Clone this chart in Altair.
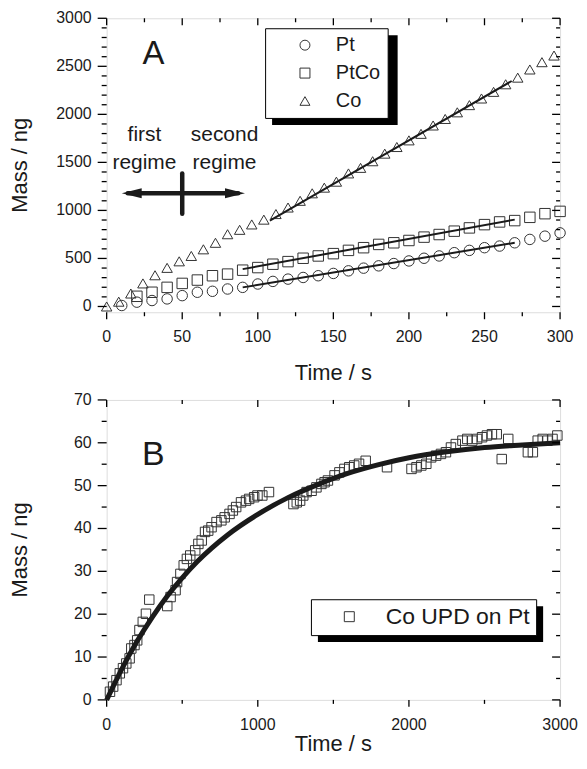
import altair as alt
import pandas as pd

FONT = "Liberation Sans"
INK = "#1a1a1a"
MARK = "#333333"

# ---------------- Panel A data ----------------
pt_time = [10, 20, 30, 40, 50, 60, 70, 80, 90, 100, 110, 120, 130, 140, 150,
           160, 170, 180, 190, 200, 210, 220, 230, 240, 250, 260, 270, 280, 290, 300]
pt_mass = [10, 45, 62, 79, 113, 148, 158, 182, 199, 234, 261, 285, 302, 320, 344,
           371, 399, 423, 447, 474, 502, 526, 560, 584, 612, 629, 663, 698, 732, 766]

ptco_time = [20, 30, 40, 50, 60, 70, 80, 90, 100, 110, 120, 130, 140, 150,
             160, 170, 180, 190, 200, 210, 220, 230, 240, 250, 260, 270, 280, 290, 300]
ptco_mass = [106, 148, 199, 240, 275, 320, 337, 378, 405, 440, 467, 502, 526, 550,
             584, 612, 646, 663, 687, 722, 749, 784, 818, 852, 880, 894, 928, 966, 990]

co_time = [0, 8, 16, 24, 32, 40, 48, 56, 64, 72, 80, 88, 96, 104, 112, 120, 128, 136, 144,
           152, 160, 168, 176, 184, 192, 200, 208, 216, 224, 232, 240, 248, 256, 264, 272,
           280, 288, 296]
co_mass = [0, 50, 135, 240, 325, 402, 470, 526, 595, 663, 752, 798, 854, 904, 962, 1030,
           1100, 1178, 1237, 1299, 1385, 1443, 1512, 1591, 1660, 1729, 1797, 1884, 1952,
           2021, 2096, 2165, 2234, 2313, 2382, 2467, 2543, 2612]

series_a = ["Pt", "PtCo", "Co"]

fit_series = ["Pt", "Pt", "PtCo", "PtCo", "Co", "Co"]
fit_time = [90, 270, 90, 270, 108, 268]
fit_mass = [199, 663, 389, 904, 894, 2347]

arrow_part = ["h", "h", "v", "v"]
arrow_time = [14, 87, 50, 50]
arrow_mass = [1178, 1178, 966, 1385]
head_left_time, head_right_time, head_mass = [10], [91.5], [1178]

note_text = ["first", "regime", "second", "regime"]
note_time = [25, 25, 78, 78]
note_mass = [1719, 1430, 1719, 1430]

# ---------------- Panel B data ----------------
b_time = [22, 43, 65, 87, 108, 130, 152, 163, 184, 202, 217, 239, 260, 282, 401, 423,
          456, 466, 488, 510, 531, 553, 586, 607, 629, 651, 672, 694, 727, 759, 781, 813,
          835, 857, 889, 922, 943, 976, 998, 1030, 1074, 1236, 1258, 1280, 1301, 1323,
          1356, 1388, 1421, 1442, 1464, 1508, 1540, 1573, 1605, 1638, 1670, 1714, 1855,
          2017, 2050, 2082, 2115, 2147, 2180, 2212, 2245, 2278, 2310, 2354, 2386, 2419,
          2451, 2484, 2516, 2549, 2581, 2614, 2657, 2787, 2820, 2852, 2885, 2917, 2950, 2982]
b_mass = [1.9, 3.1, 4.6, 6.2, 7.4, 8.5, 9.7, 12.0, 12.8, 13.9, 16.3, 18.2, 20.1, 23.4,
          21.9, 24.0, 25.6, 27.5, 29.4, 31.4, 32.9, 33.7, 34.9, 36.4, 37.2, 39.2, 39.5,
          40.3, 41.5, 41.9, 42.6, 43.4, 44.2, 45.0, 46.1, 46.5, 46.9, 47.3, 47.7, 47.7,
          48.5, 45.7, 46.1, 46.5, 47.7, 48.5, 48.8, 49.6, 50.4, 50.8, 51.2, 52.4, 53.1,
          53.9, 54.3, 54.7, 55.1, 55.8, 54.3, 53.9, 54.3, 54.7, 55.1, 56.6, 57.0, 57.4,
          57.8, 58.9, 59.7, 60.5, 60.9, 60.5, 60.9, 61.3, 61.7, 62.0, 62.0, 56.2, 60.9,
          57.8, 57.8, 60.5, 60.9, 60.5, 60.9, 61.7]
b_series = "Co UPD on Pt"

curve_time = [0, 100, 200, 300, 400, 500, 600, 800, 1000, 1200, 1400, 1600, 1800, 2000,
              2250, 2500, 2750, 3000]
curve_mass = [0, 7.2, 13.6, 19.2, 24.2, 28.5, 32.3, 38.5, 43.3, 47.2, 50.3, 52.9, 54.9,
              56.5, 57.9, 58.9, 59.5, 60.0]

# ---------------- tick values and axis texts ----------------
xa_major = [0, 50, 100, 150, 200, 250, 300]
xa_minor = [25, 75, 125, 175, 225, 275]
ya_major = [0, 500, 1000, 1500, 2000, 2500, 3000]
ya_minor = [100, 200, 300, 400, 600, 700, 800, 900, 1100, 1200, 1300, 1400, 1600, 1700,
            1800, 1900, 2100, 2200, 2300, 2400, 2600, 2700, 2800, 2900]
xb_major = [0, 1000, 2000, 3000]
xb_minor = [500, 1500, 2500]
yb_major = [0, 10, 20, 30, 40, 50, 60, 70]
yb_minor = [5, 15, 25, 35, 45, 55, 65]

x_title = "Time  /  s"
y_title = "Mass  /  ng"

# ---------------- tables ----------------
pts_a = pd.DataFrame({
    "t": pt_time + ptco_time + co_time,
    "m": pt_mass + ptco_mass + co_mass,
    "series": ["Pt"] * len(pt_time) + ["PtCo"] * len(ptco_time) + ["Co"] * len(co_time),
})
fit_a = pd.DataFrame({"t": fit_time, "m": fit_mass, "series": fit_series})
arrow_a = pd.DataFrame({"t": arrow_time, "m": arrow_mass, "part": arrow_part})
notes_a = pd.DataFrame({"t": note_time, "m": note_mass, "txt": note_text})
pts_b = pd.DataFrame({"t": b_time, "m": b_mass, "series": [b_series] * len(b_time)})
curve_b = pd.DataFrame({"t": curve_time, "m": curve_mass})
one = pd.DataFrame({"k": [0]})

WA, HA = 455, 295
WB, HB = 455, 301

VTICK = "M0,-1L0,1"   # vertical stroke symbol (length = sqrt(size))
HTICK = "M-1,0L1,0"   # horizontal stroke symbol

xsA = alt.Scale(domain=[0, 300], nice=False, zero=False)
ysA = alt.Scale(domain=[-60, 3000], nice=False, zero=False)
xsB = alt.Scale(domain=[0, 3000], nice=False, zero=False)
ysB = alt.Scale(domain=[0, 70], nice=False, zero=False)


def XA(f="t:Q"):
    return alt.X(f, scale=xsA, axis=None)


def YA(f="m:Q"):
    return alt.Y(f, scale=ysA, axis=None)


def XB(f="t:Q"):
    return alt.X(f, scale=xsB, axis=None)


def YB(f="m:Q"):
    return alt.Y(f, scale=ysB, axis=None)


def frame_layers(X, Y, x_major, x_minor, y_major, y_minor, W, H, title_gap):
    """Ticks (outward bottom/left, inward top/right), tick labels and axis
    titles, all placed through the panel's own scales."""
    layers = []
    for vals, L in ((x_major, 7), (x_minor, 4)):
        base = alt.Chart(pd.DataFrame({"v": vals})).mark_point(
            shape=VTICK, size=L * L, filled=False, color="black", strokeWidth=1.3,
            opacity=1)
        layers.append(base.encode(x=X("v:Q"), y=alt.value(H + L / 2)))
        layers.append(base.encode(x=X("v:Q"), y=alt.value(L / 2)))
    for vals, Lout, Lin in ((y_major, 9, 8), (y_minor, 5, 4)):
        df = pd.DataFrame({"v": vals})
        layers.append(alt.Chart(df).mark_point(
            shape=HTICK, size=Lout * Lout, filled=False, color="black", strokeWidth=1.3,
            opacity=1).encode(y=Y("v:Q"), x=alt.value(-Lout / 2)))
        layers.append(alt.Chart(df).mark_point(
            shape=HTICK, size=Lin * Lin, filled=False, color="black", strokeWidth=1.3,
            opacity=1).encode(y=Y("v:Q"), x=alt.value(W - Lin / 2)))
    # tick labels
    xl = pd.DataFrame({"v": x_major, "lab": [str(v) for v in x_major]})
    layers.append(alt.Chart(xl).mark_text(
        font=FONT, fontSize=16, color=INK, align="center", baseline="middle").encode(
        x=X("v:Q"), y=alt.value(H + 25), text="lab:N"))
    yl = pd.DataFrame({"v": y_major, "lab": [str(v) for v in y_major]})
    layers.append(alt.Chart(yl).mark_text(
        font=FONT, fontSize=16, color=INK, align="right", baseline="middle").encode(
        y=Y("v:Q"), x=alt.value(-15), text="lab:N"))
    # axis titles
    layers.append(alt.Chart(pd.DataFrame({"txt": [x_title]})).mark_text(
        font=FONT, fontSize=22, color=INK, align="center", baseline="alphabetic").encode(
        x=alt.value(W / 2), y=alt.value(H + title_gap), text="txt:N"))
    layers.append(alt.Chart(pd.DataFrame({"txt": [y_title]})).mark_text(
        font=FONT, fontSize=22, color=INK, align="center", baseline="alphabetic",
        angle=270).encode(
        x=alt.value(-80), y=alt.value(H / 2), text="txt:N"))
    return layers


# ---------------- Panel A ----------------
shadow_a = alt.Chart(one).mark_rect(color="black").encode(
    x=alt.value(166), x2=alt.value(292), y=alt.value(17), y2=alt.value(107))

points_a = alt.Chart(pts_a).mark_point(filled=False, color=MARK, strokeWidth=1, opacity=1,
                                       size=110).encode(
    x=XA(), y=YA(),
    shape=alt.Shape("series:N", scale=alt.Scale(domain=series_a,
                                                range=["circle", "square", "triangle-up"]),
                    legend=alt.Legend(title=None, orient="none", legendX=159, legendY=10,
                                      fillColor="white", strokeColor="black", padding=7,
                                      labelFont=FONT, labelFontSize=20, labelColor=INK,
                                      symbolSize=100, symbolStrokeWidth=1,
                                      symbolStrokeColor=MARK, symbolOffset=23,
                                      labelOffset=21, rowPadding=8)),
)

fits_a = alt.Chart(fit_a).mark_line(color=INK, strokeWidth=2).encode(
    x=XA(), y=YA(), detail="series:N")

arrows_a = alt.Chart(arrow_a).mark_line(color=INK, strokeWidth=4.5, strokeCap="round").encode(
    x=XA(), y=YA(), detail="part:N")

notes = alt.Chart(notes_a).mark_text(font=FONT, fontSize=21, color=INK, align="center",
                                      baseline="alphabetic").encode(
    x=XA(), y=YA(), text="txt:N")

head_l = alt.Chart(pd.DataFrame({"t": head_left_time, "m": head_mass})).mark_point(
    shape="M0,0L2,-0.5L2,0.5Z", filled=True, color=INK, size=400, opacity=1).encode(
    x=XA(), y=YA())
head_r = alt.Chart(pd.DataFrame({"t": head_right_time, "m": head_mass})).mark_point(
    shape="M0,0L-2,-0.5L-2,0.5Z", filled=True, color=INK, size=400, opacity=1).encode(
    x=XA(), y=YA())

label_a = alt.Chart(pd.DataFrame({"t": [31], "m": [2519], "txt": ["A"]})).mark_text(
    font=FONT, fontSize=33, color=INK, align="center", baseline="alphabetic").encode(
    x=XA(), y=YA(), text="txt:N")

panel_a = alt.layer(
    shadow_a, points_a, fits_a, arrows_a, notes, head_l, head_r, label_a,
    *frame_layers(XA, YA, xa_major, xa_minor, ya_major, ya_minor, WA, HA, 68)
).properties(width=WA, height=HA)

# ---------------- Panel B ----------------
shadow_b = alt.Chart(one).mark_rect(color="black").encode(
    x=alt.value(212), x2=alt.value(438), y=alt.value(207), y2=alt.value(243))

points_b = alt.Chart(pts_b).mark_point(filled=False, color=MARK, strokeWidth=1, opacity=1,
                                       size=90).encode(
    x=XB(), y=YB(),
    shape=alt.Shape("series:N", scale=alt.Scale(domain=[b_series], range=["square"]),
                    legend=alt.Legend(title=None, orient="none", legendX=205, legendY=200,
                                      fillColor="white", strokeColor="black", padding=6,
                                      labelFont=FONT, labelFontSize=23, labelColor=INK,
                                      symbolSize=100, symbolStrokeWidth=1,
                                      symbolStrokeColor=MARK, symbolOffset=21,
                                      labelOffset=25)),
)

curve = alt.Chart(curve_b).mark_line(color=INK, strokeWidth=5, interpolate="monotone").encode(
    x=XB(), y=YB())

label_b = alt.Chart(pd.DataFrame({"t": [309], "m": [54.7], "txt": ["B"]})).mark_text(
    font=FONT, fontSize=34, color=INK, align="center", baseline="alphabetic").encode(
    x=XB(), y=YB(), text="txt:N")

panel_b = alt.layer(
    shadow_b, points_b, curve, label_b,
    *frame_layers(XB, YB, xb_major, xb_minor, yb_major, yb_minor, WB, HB, 51)
).properties(width=WB, height=HB)

chart = alt.vconcat(panel_a, panel_b, spacing=6).resolve_scale(
    shape="independent").properties(
    padding={"left": 0, "top": 0, "right": 0, "bottom": 0}, background="white"
).configure_view(stroke="black", strokeWidth=1.6).configure(font=FONT)

chart.save("out.html", embed_options={"renderer": "svg", "actions": False})
